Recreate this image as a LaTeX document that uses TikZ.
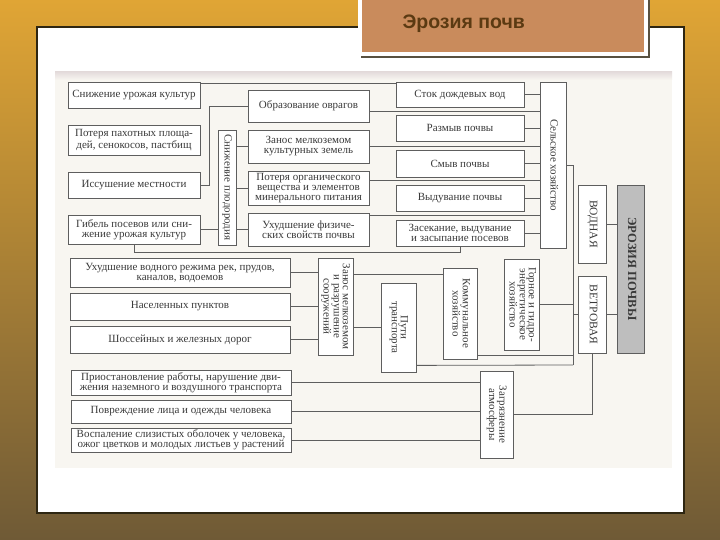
\documentclass[tikz,border=0pt]{standalone}
\usepackage{fontspec}
\setmainfont{Liberation Serif}
\newfontfamily\titlefont{Liberation Sans}
\usetikzlibrary{positioning}

\definecolor{bgtop}{HTML}{E0A535}
\definecolor{bgmid}{HTML}{B98B3F}
\definecolor{bgbot}{HTML}{6F5A36}
\definecolor{panelline}{HTML}{2E2612}
\definecolor{titlebg}{HTML}{C98B5C}
\definecolor{titletext}{HTML}{5B3A12}
\definecolor{scanbg}{HTML}{F8F6F1}
\definecolor{scanedge}{HTML}{E4DCDC}
\definecolor{scanline}{HTML}{5E5E5E}
\definecolor{scantext}{HTML}{3A3A3A}
\definecolor{erogray}{HTML}{BEBEBE}

\newcommand{\scanfont}{\fontsize{11}{10}\selectfont}
\newcommand{\vtext}[1]{\rotatebox{-90}{\renewcommand{\arraystretch}{0.9}\begin{tabular}{@{}c@{}}#1\end{tabular}}}

\begin{document}
\begin{tikzpicture}[x=1pt, y=-1pt,
    % Define styles for the boxes of the scheme
    box/.style={rectangle, draw=scanline, line width=0.8pt, fill=white, text=scantext, inner sep=0pt, align=center, font=\scanfont},
    lbox/.style={box, minimum width=132pt},
    mbox/.style={box, minimum width=121pt},
    rbox/.style={box, minimum width=128pt},
    wbox/.style={box, minimum width=220pt},
    kind/.style={box, font=\fontsize{11.5}{12}\selectfont},
    mainbox/.style={box, fill=erogray, font=\fontsize{12.5}{13}\selectfont\bfseries},
    conn/.style={scanline, line width=0.8pt}
]
    \useasboundingbox (0,0) rectangle (720,540);

    % Slide background and panel
    \shade[top color=bgtop, middle color=bgmid, bottom color=bgbot] (0,0) rectangle (720,540);
    \draw[panelline, line width=1.2pt, fill=white] (37,27) rectangle (684,513);
    \fill[scanbg] (55,72) rectangle (672,468);
    \shade[top color=scanedge, bottom color=scanbg] (55,72) rectangle (672,80);

    % Title
    \fill[panelline!80] (361,0) rectangle (650,58);
    \fill[white] (358,-2) rectangle (648,56);
    \fill[titlebg] (362,-2) rectangle (644,52);
    \node[font=\titlefont\bfseries\fontsize{19.5}{21}\selectfont, text=titletext, anchor=west] (title) at (399,24) {Эрозия почв};

    % Left column
    \node[lbox, minimum height=26pt] (urozh) at (134,95) {Снижение урожая культур};
    \node[lbox, minimum height=30pt] (ploshch) at (134,140) {Потеря пахотных площа-\\дей, сенокосов, пастбищ};
    \node[lbox, minimum height=26pt] (issush) at (134,185) {Иссушение местности};
    \node[lbox, minimum height=29pt] (gibel) at (134,229.5) {Гибель посевов или сни-\\жение урожая культур};

    \node[box, minimum width=18pt, minimum height=115pt] (plodor) at (227,187.5) {\vtext{Снижение плодородия}};

    % Middle column
    \node[mbox, minimum height=32pt] (ovrag) at (308.5,106) {Образование оврагов};
    \node[mbox, minimum height=33pt] (zanos) at (308.5,146.5) {Занос мелкоземом\\культурных земель};
    \node[mbox, minimum height=34pt] (organ) at (308.5,188) {Потеря органического\\вещества и элементов\\минерального питания};
    \node[mbox, minimum height=33pt] (fizich) at (308.5,229.5) {Ухудшение физиче-\\ских свойств почвы};

    % Right column
    \node[rbox, minimum height=25pt] (stok) at (460,94.5) {Сток дождевых вод};
    \node[rbox, minimum height=26pt] (razmyv) at (460,128) {Размыв почвы};
    \node[rbox, minimum height=27pt] (smyv) at (460,163.5) {Смыв почвы};
    \node[rbox, minimum height=26pt] (vyduv) at (460,198) {Выдувание почвы};
    \node[rbox, minimum height=26pt] (zasek) at (460,233) {Засекание, выдувание\\и засыпание посевов};

    \node[box, minimum width=26pt, minimum height=166pt] (selsk) at (553,165) {\vtext{Сельское хозяйство}};

    % Kinds of erosion
    \node[kind, minimum width=28pt, minimum height=78pt] (vodn) at (592,224) {\vtext{ВОДНАЯ}};
    \node[kind, minimum width=28pt, minimum height=77pt] (vetr) at (592,314.5) {\vtext{ВЕТРОВАЯ}};
    \node[mainbox, minimum width=27pt, minimum height=168pt] (eroz) at (630.5,269) {\vtext{ЭРОЗИЯ ПОЧВЫ}};

    % Branches of economy
    \node[box, minimum width=35pt, minimum height=91pt] (gorn) at (521.5,304.5) {\vtext{Горное и гидро-\\энергетическое\\хозяйство}};
    \node[box, minimum width=34pt, minimum height=91pt] (komm) at (460,313.5) {\vtext{Коммунальное\\хозяйство}};
    \node[box, minimum width=35pt, minimum height=89pt] (puti) at (398.5,327.5) {\vtext{Пути\\транспорта}};
    \node[box, minimum width=35pt, minimum height=97pt] (soor) at (335.5,306.5) {\vtext{Занос мелкоземом\\и разрушение\\сооружений}};

    \node[wbox, minimum height=29pt] (vodrezh) at (180,272.5) {Ухудшение водного режима рек, прудов,\\каналов, водоемов};
    \node[wbox, minimum height=27pt] (nasel) at (180,306.5) {Населенных пунктов};
    \node[wbox, minimum height=27pt] (dorog) at (180,339.5) {Шоссейных и железных дорог};

    % Atmosphere
    \node[wbox, minimum height=25pt] (transp) at (181,382.5) {Приостановление работы, нарушение дви-\\жения наземного и воздушного транспорта};
    \node[wbox, minimum height=23pt] (litso) at (181,411.5) {Повреждение лица и одежды человека};
    \node[wbox, minimum height=24pt] (vospal) at (181,440) {Воспаление слизистых оболочек у человека,\\ожог цветков и молодых листьев у растений};
    \node[box, minimum width=33pt, minimum height=87pt] (atmos) at (496.5,414.5) {\vtext{Загрязнение\\атмосферы}};

    % Bus line on the right
    \coordinate (busbot) at (573,365);

    % Connections, upper part
    \draw[conn] ([yshift=-2pt]urozh.north east) -- ([yshift=-2pt]urozh.north east -| stok.west);
    \draw[conn] (ovrag.west) -- ++(-38,0) |- (issush.east);
    \draw[conn] (gibel.east) -- (gibel.east -| plodor.west);
    \foreach \n in {zanos,organ,fizich}
        \draw[conn] (\n.west -| plodor.east) -- (\n.west);
    \draw[conn] ([yshift=-5pt]ovrag.east) -- ([yshift=-5pt]ovrag.east -| selsk.west);
    \draw[conn] (zanos.east) -- (zanos.east -| selsk.west);
    \draw[conn] ([yshift=8pt]organ.east) -- ([yshift=8pt]organ.east -| selsk.west);
    \draw[conn] ([yshift=14pt]fizich.east) -- ([yshift=14pt]fizich.east -| selsk.west);
    \foreach \n in {stok,razmyv,smyv,vyduv,zasek}
        \draw[conn] (\n.east) -- (\n.east -| selsk.west);
    \draw[conn] (gibel.south) -- ++(0,8) -| (zasek.south);

    % Connections to the kinds of erosion
    \draw[conn] (selsk.east) -| (busbot);
    \draw[conn] (vodn.east) -- (vodn.east -| eroz.west);
    \draw[conn] (vetr.east) -- (vetr.east -| eroz.west);
    \draw[conn] (vetr.west) -- (vetr.west -| busbot);
    \draw[conn] (gorn.east) -- (gorn.east -| busbot);
    \draw[conn] ([yshift=4pt]komm.south east) -- ([yshift=4pt]komm.south east -| busbot);
    \draw[conn] ([yshift=7pt]puti.south east) -- (busbot);

    % Connections, lower part
    \foreach \n in {vodrezh,nasel,dorog}
        \draw[conn] (\n.east) -- (\n.east -| soor.west);
    \draw[conn] ([yshift=-7pt]komm.north west) -- ([yshift=-7pt]komm.north west -| soor.east);
    \draw[conn] (puti.west) -- (puti.west -| soor.east);
    \draw[conn] (vetr.south) |- (atmos.east);
    \foreach \n in {transp,litso,vospal}
        \draw[conn] (\n.east) -- (\n.east -| atmos.west);
\end{tikzpicture}
\end{document}
